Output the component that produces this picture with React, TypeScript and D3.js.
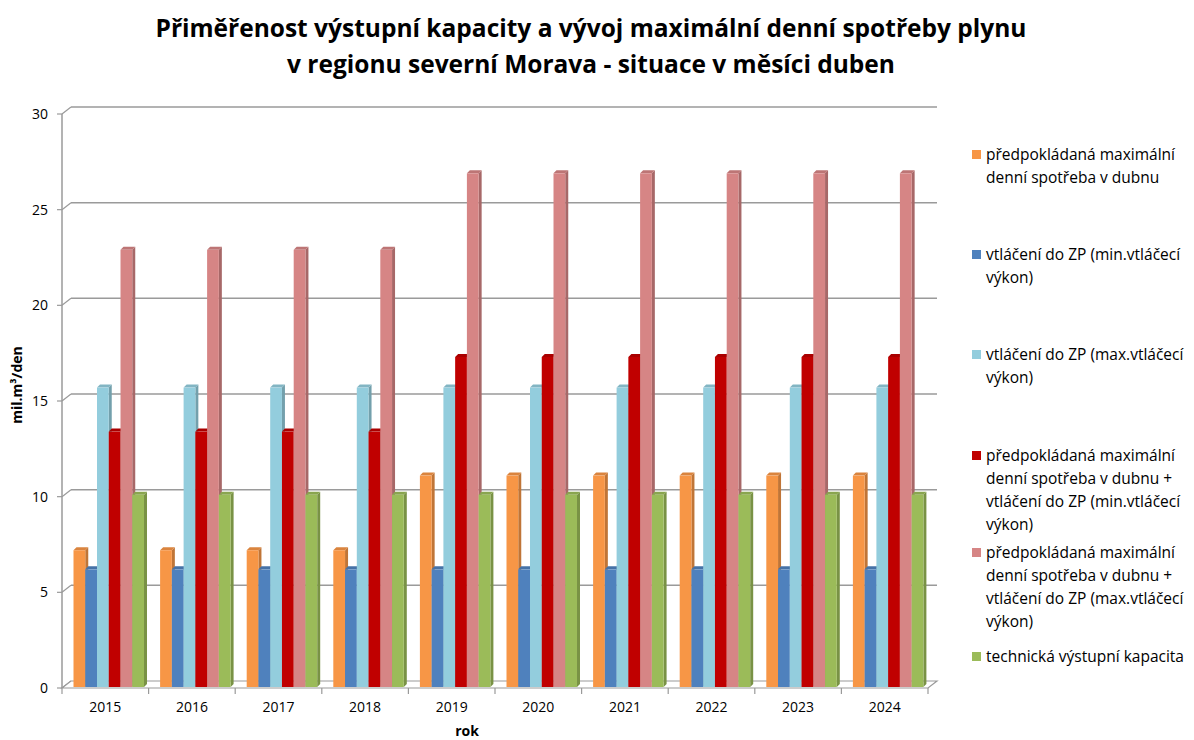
import * as d3 from 'd3';

// Years on the category axis
const years = ['2015', '2016', '2017', '2018', '2019', '2020', '2021', '2022', '2023', '2024'];

// Series values (mil. m3/den)
const spotreba = [7.2, 7.2, 7.2, 7.2, 11.1, 11.1, 11.1, 11.1, 11.1, 11.1];
const vtlaceniMin = [6.2, 6.2, 6.2, 6.2, 6.2, 6.2, 6.2, 6.2, 6.2, 6.2];
const vtlaceniMax = [15.7, 15.7, 15.7, 15.7, 15.7, 15.7, 15.7, 15.7, 15.7, 15.7];
const spotrebaMin = [13.4, 13.4, 13.4, 13.4, 17.3, 17.3, 17.3, 17.3, 17.3, 17.3];
const spotrebaMax = [22.9, 22.9, 22.9, 22.9, 26.9, 26.9, 26.9, 26.9, 26.9, 26.9];
const kapacita = [10.1, 10.1, 10.1, 10.1, 10.1, 10.1, 10.1, 10.1, 10.1, 10.1];

const yTicks = [0, 5, 10, 15, 20, 25, 30];

const series = [
  { key: 's1', values: spotreba, color: '#F79646', label: ['předpokládaná maximální', 'denní spotřeba v dubnu'] },
  { key: 's2', values: vtlaceniMin, color: '#4F81BD', label: ['vtláčení do ZP (min.vtláčecí', 'výkon)'] },
  { key: 's3', values: vtlaceniMax, color: '#93CDDD', label: ['vtláčení do ZP (max.vtláčecí', 'výkon)'] },
  { key: 's4', values: spotrebaMin, color: '#C00000', label: ['předpokládaná maximální', 'denní spotřeba v dubnu +', 'vtláčení do ZP (min.vtláčecí', 'výkon)'] },
  { key: 's5', values: spotrebaMax, color: '#D68585', label: ['předpokládaná maximální', 'denní spotřeba v dubnu +', 'vtláčení do ZP (max.vtláčecí', 'výkon)'] },
  { key: 's6', values: kapacita, color: '#9BBB59', label: ['technická výstupní kapacita'] },
];

const legendTops = [155, 255, 355, 456, 553, 657];

const FONT = '"Open Sans", "Noto Sans", sans-serif';

export default function App() {
  const W = 1194;
  const H = 740;
  const x0 = 62;
  const x1 = 928;
  const wallDx = 9;
  const wallDy = -7;
  const barDx = 3;
  const barDy = -3;

  const x = d3.scaleBand<string>().domain(years).range([x0, x1]);
  const inner = d3.scaleBand<string>()
    .domain(series.map((s) => s.key))
    .range([11.5, 82]);
  const y = d3.scaleLinear().domain([0, 30]).range([688, 114]);

  const gridColor = '#9a9a9a';

  return (
    <svg width={W} height={H} style={{ position: 'absolute', left: 0, top: 0, background: '#fff' }}>
      {/* title */}
      <text x={591} y={37} textAnchor="middle" fontFamily={FONT} fontWeight={700} fontSize={24.5} fill="#000">
        Přiměřenost výstupní kapacity a vývoj maximální denní spotřeby plynu
      </text>
      <text x={591} y={73} textAnchor="middle" fontFamily={FONT} fontWeight={700} fontSize={24.5} fill="#000">
        v regionu severní Morava - situace v měsíci duben
      </text>

      {/* back wall gridlines with left wall diagonals */}
      {yTicks.map((t) => (
        <g key={t}>
          {t > 0 && (
            <line x1={x0 + wallDx} x2={x1 + wallDx} y1={y(t) + wallDy} y2={y(t) + wallDy} stroke={gridColor} strokeWidth={1.5} />
          )}
          <line x1={x0} x2={x0 + wallDx} y1={y(t)} y2={y(t) + wallDy} stroke={gridColor} strokeWidth={1.2} />
          <line x1={x0 - 5} x2={x0} y1={y(t)} y2={y(t)} stroke={gridColor} strokeWidth={1.2} />
          <text x={48} y={y(t) + 5} textAnchor="end" fontFamily={FONT} fontSize={14} fill="#000">
            {t}
          </text>
        </g>
      ))}

      {/* floor */}
      <path
        d={`M${x0},${y(0)} L${x1},${y(0)} L${x1 + wallDx},${y(0) + wallDy} L${x0 + wallDx},${y(0) + wallDy} Z`}
        fill="#fff"
        stroke={gridColor}
        strokeWidth={1.2}
      />
      <line x1={x0} x2={x0} y1={y(30)} y2={y(0)} stroke={gridColor} strokeWidth={1.5} />
      {years.map((yr) => (
        <line key={yr} x1={x.bandwidth() + (x(yr) as number)} x2={x.bandwidth() + (x(yr) as number)} y1={y(0)} y2={y(0) + 6} stroke={gridColor} strokeWidth={1.2} />
      ))}
      <line x1={x0} x2={x0} y1={y(0)} y2={y(0) + 6} stroke={gridColor} strokeWidth={1.2} />

      {/* bars */}
      {years.map((yr, i) => (
        <g key={yr}>
          {series.map((s) => {
            const bx = (x(yr) as number) + (inner(s.key) as number);
            const bw = inner.bandwidth();
            const top = y(s.values[i]);
            const bottom = y(0) - 1;
            const side = d3.color(s.color)!.darker(0.7).toString();
            const topCol = d3.color(s.color)!.darker(0.35).toString();
            return (
              <g key={s.key}>
                <path
                  d={`M${bx + bw},${top} L${bx + bw + barDx},${top + barDy} L${bx + bw + barDx},${bottom + barDy} L${bx + bw},${bottom} Z`}
                  fill={side}
                />
                <path
                  d={`M${bx},${top} L${bx + barDx},${top + barDy} L${bx + bw + barDx},${top + barDy} L${bx + bw},${top} Z`}
                  fill={topCol}
                />
                <rect x={bx} y={top} width={bw} height={bottom - top} fill={s.color} />
              </g>
            );
          })}
          <text
            x={(x(yr) as number) + x.bandwidth() / 2}
            y={712}
            textAnchor="middle"
            fontFamily={FONT}
            fontSize={14}
            fill="#000"
          >
            {yr}
          </text>
        </g>
      ))}

      {/* axis titles */}
      <text x={467} y={736} textAnchor="middle" fontFamily={FONT} fontWeight={700} fontSize={14} fill="#000">
        rok
      </text>
      <text
        transform="translate(22,385) rotate(-90)"
        textAnchor="middle"
        fontFamily={FONT}
        fontWeight={700}
        fontSize={14}
        fill="#000"
      >
        mil.m³/den
      </text>

      {/* legend */}
      {series.map((s, i) => (
        <g key={s.key}>
          <rect x={972} y={legendTops[i] - 5} width={9} height={9} fill={s.color} />
          {s.label.map((ln, j) => (
            <text key={j} x={986} y={legendTops[i] + 5 + j * 23} fontFamily={FONT} fontSize={15.5} fill="#000">
              {ln}
            </text>
          ))}
        </g>
      ))}
    </svg>
  );
}
